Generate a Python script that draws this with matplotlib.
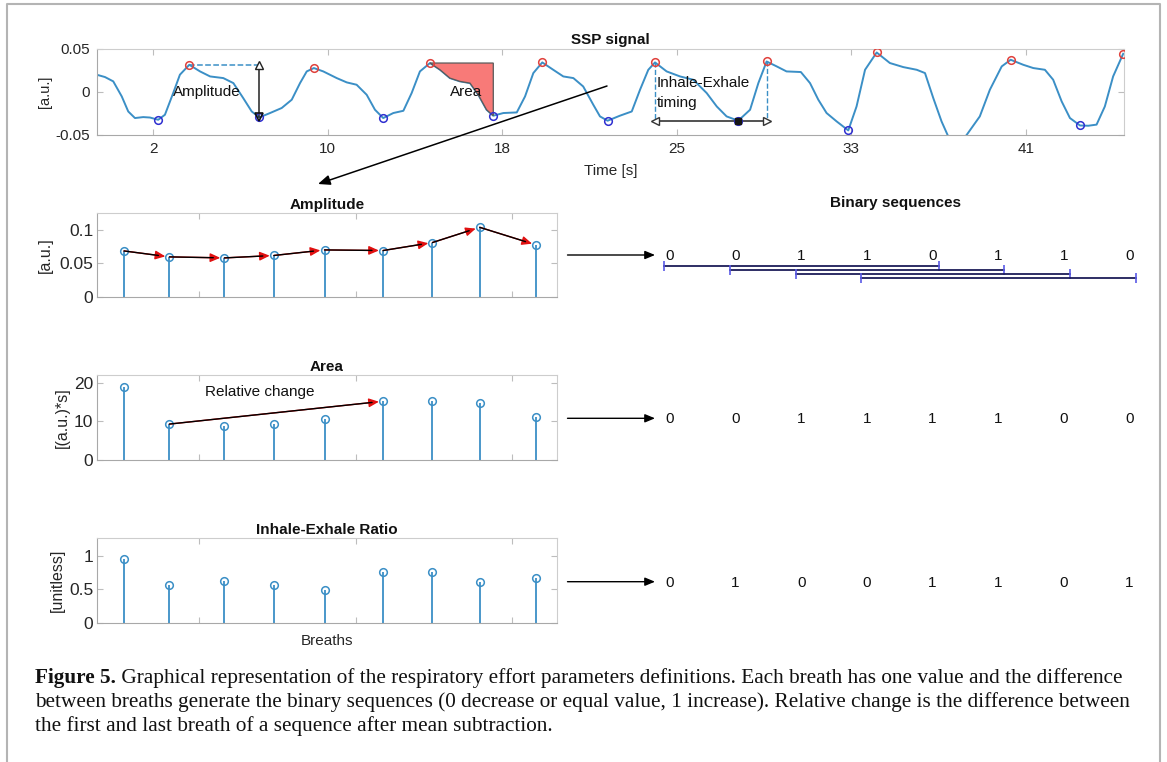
import matplotlib
matplotlib.use('Agg')
import matplotlib.pyplot as plt
from matplotlib.patches import Polygon, FancyArrowPatch
from matplotlib.lines import Line2D

plt.rcParams['font.family'] = ['Liberation Sans', 'DejaVu Sans']

# ---------------- data ----------------
sig_t = [-0.53, -0.16, 0.21, 0.59, 0.88, 1.18, 1.55, 1.85, 2.22, 2.52, 2.89, 3.19, 3.61,
         4.09, 4.54, 5.13, 5.58, 6.02, 6.40, 6.74, 7.22, 7.74, 8.19, 8.56, 8.86, 9.18,
         9.60, 10.20, 10.65, 11.09, 11.54, 11.91, 12.28, 12.73, 13.18, 13.55, 13.92, 14.37,
         14.82, 15.26, 15.71, 16.16, 16.53, 16.90, 17.20, 17.65, 18.25, 18.62, 18.99, 19.39,
         19.88, 20.33, 20.78, 21.22, 21.67, 21.97, 22.31, 22.86, 23.39, 23.76, 24.13, 24.43,
         24.95, 25.55, 26.14, 26.74, 27.19, 27.63, 28.15, 28.68, 29.05, 29.42, 29.87, 30.31,
         30.95, 31.36, 31.73, 32.10, 32.55, 33.07, 33.44, 33.82, 34.34, 34.93, 35.53, 36.13,
         36.50, 36.87, 37.24, 37.54, 37.93, 38.36, 38.95, 39.40, 39.93, 40.33, 40.89, 41.34,
         41.86, 42.23, 42.61, 42.98, 43.43, 43.80, 44.17, 44.54, 44.91, 45.36]
sig_v = [0.0197, 0.0170, 0.0120, -0.0054, -0.0228, -0.0304, -0.0293, -0.0298, -0.0324,
         -0.0266, -0.0015, 0.0197, 0.0312, 0.0235, 0.0177, 0.0158, 0.0100, -0.0073, -0.0228,
         -0.0297, -0.0246, -0.0188, -0.0092, 0.0100, 0.0235, 0.0274, 0.0235, 0.0158, 0.0108,
         0.0081, -0.0035, -0.0208, -0.0304, -0.0246, -0.0220, -0.0015, 0.0235, 0.0332, 0.0254,
         0.0158, 0.0120, 0.0100, -0.0035, -0.0208, -0.0277, -0.0246, -0.0239, -0.0054, 0.0216,
         0.0339, 0.0254, 0.0177, 0.0158, 0.0061, -0.0150, -0.0285, -0.0335, -0.0277, -0.0228,
         0.0023, 0.0254, 0.0339, 0.0235, 0.0177, 0.0139, -0.0015, -0.0170, -0.0285, -0.0335,
         -0.0208, 0.0100, 0.0350, 0.0293, 0.0235, 0.0228, 0.0100, -0.0092, -0.0246, -0.0343,
         -0.0447, -0.0170, 0.0254, 0.0454, 0.0332, 0.0285, 0.0254, 0.0216, -0.0073, -0.0343,
         -0.0517, -0.0620, -0.0500, -0.0285, 0.0023, 0.0293, 0.0370, 0.0312, 0.0274, 0.0254,
         0.0139, -0.0112, -0.0304, -0.0390, -0.0393, -0.0380, -0.0170, 0.0177, 0.0439]
peak_t = [3.61, 9.18, 14.37, 19.39, 24.43, 29.42, 34.34, 40.33, 45.36]
peak_v = [0.0312, 0.0274, 0.0332, 0.0339, 0.0339, 0.0350, 0.0454, 0.0370, 0.0439]
trough_t = [2.22, 6.74, 12.28, 17.20, 22.31, 28.15, 33.07, 43.43]
trough_v = [-0.0324, -0.0297, -0.0304, -0.0277, -0.0335, -0.0335, -0.0447, -0.0390]
time_ticks = [2, 9.8, 17.6, 25.4, 33.2, 41.0]
time_tick_labels = ['2', '10', '18', '25', '33', '41']

breath_x = [5.17, 8.08, 11.60, 14.77, 18.01, 21.76, 24.92, 27.95, 31.56]
amplitude = [0.0685, 0.0597, 0.0582, 0.0618, 0.0700, 0.0691, 0.0809, 0.1034, 0.0774]
area = [18.8, 9.3, 8.8, 9.3, 10.6, 15.2, 15.3, 14.7, 11.1]
ie_ratio = [0.951, 0.567, 0.630, 0.567, 0.493, 0.760, 0.766, 0.607, 0.666]

bin_amplitude = [0, 0, 1, 1, 0, 1, 1, 0]
bin_area = [0, 0, 1, 1, 1, 1, 0, 0]
bin_ratio = [0, 1, 0, 0, 1, 1, 0, 1]
seq_len = 5

caption_bold = 'Figure 5.'
caption_lines = [
    ' Graphical representation of the respiratory effort parameters definitions. Each breath has one value and the difference',
    'between breaths generate the binary sequences (0 decrease or equal value, 1 increase). Relative change is the difference between',
    'the first and last breath of a sequence after mean subtraction.',
]

# ---------------- style ----------------
W, H = 1167, 762
BLUE = '#3b8fc6'
RED = '#e0413c'
TBLUE = '#2f2fd0'
SPINE_D = '#a8a8a8'
SPINE_L = '#cdcdcd'
TXT = '#262626'

fig = plt.figure(figsize=(W / 100, H / 100), dpi=100)


def rect(l, t, r, b):
    return [l / W, 1 - b / H, (r - l) / W, (b - t) / H]


def style_axes(ax, labelsize, pad_y, pad_x=4):
    for s in ['left', 'bottom']:
        ax.spines[s].set_color(SPINE_D)
    for s in ['top', 'right']:
        ax.spines[s].set_color(SPINE_L)
    ax.tick_params(direction='in', top=True, right=True, length=4, color='#bdbdbd',
                   labelcolor=TXT, labelsize=labelsize)
    ax.tick_params(axis='y', pad=pad_y)
    ax.tick_params(axis='x', pad=pad_x)


# ---------------- top: SSP signal ----------------
ax0 = fig.add_axes(rect(96.7, 48.5, 1124.3, 135))
ax0.set_xlim(-0.53, 45.41)
ax0.set_ylim(-0.05, 0.05)
ax0.plot(sig_t, sig_v, color=BLUE, lw=1.4, zorder=2)

# area fill between the peak and the following trough
i0 = sig_t.index(peak_t[2])
i1 = sig_t.index(trough_t[3])
poly_pts = list(zip(sig_t[i0:i1 + 1], sig_v[i0:i1 + 1])) + [(trough_t[3], peak_v[2])]
ax0.add_patch(Polygon(poly_pts, closed=True, fc='#f87a78', ec='#5a5a5a', lw=0.9, zorder=3))
ax0.text((peak_t[2] + trough_t[3]) / 2 + 0.2, 0, 'Area', fontsize=11, ha='center', va='center',
         color='#111111', zorder=6)

# amplitude annotation
ax0.plot([peak_t[0], trough_t[1]], [peak_v[0], peak_v[0]], ls='--', color=BLUE, lw=1.1, zorder=4)
ax0.plot([trough_t[1], trough_t[1]], [peak_v[0], trough_v[1]], color='#222222', lw=1.1, zorder=4)
ax0.plot([trough_t[1]], [peak_v[0]], marker='^', ms=6, mfc='white', mec='#222222', mew=1, zorder=6)
ax0.plot([trough_t[1]], [trough_v[1]], marker='v', ms=6, mfc='none', mec='#111111', mew=1.2, zorder=6)
ax0.text(4.40, 0, 'Amplitude', fontsize=11, ha='center', va='center', color='#111111', zorder=6)

# inhale-exhale timing annotation
lvl = -0.0343
ax0.plot([peak_t[4], peak_t[4]], [peak_v[4], lvl], ls='--', color=BLUE, lw=1.0, zorder=4)
ax0.plot([peak_t[5], peak_t[5]], [peak_v[5], lvl], ls='--', color=BLUE, lw=1.0, zorder=4)
ax0.plot([peak_t[4], peak_t[5]], [lvl, lvl], color='#333333', lw=1.2, zorder=4)
ax0.plot([peak_t[4]], [lvl], marker='<', ms=6, mfc='white', mec='#333333', mew=1, zorder=6)
ax0.plot([peak_t[5]], [lvl], marker='>', ms=6, mfc='white', mec='#333333', mew=1, zorder=6)
ax0.text(24.5, 0.0101, 'Inhale-Exhale', fontsize=11, ha='left', va='center', color='#111111', zorder=6)
ax0.text(24.5, -0.0131, 'timing', fontsize=11, ha='left', va='center', color='#111111', zorder=6)

ax0.plot(peak_t, peak_v, 'o', mfc='none', mec=RED, ms=5.5, mew=1.1, zorder=5)
ax0.plot(trough_t, trough_v, 'o', mfc='none', mec=TBLUE, ms=5.5, mew=1.1, zorder=5)
ax0.plot([trough_t[5]], [trough_v[5]], 's', ms=4, color='#151515', zorder=7)

ax0.set_xticks(time_ticks, time_tick_labels)
ax0.set_yticks([-0.05, 0, 0.05], ['-0.05', '0', '0.05'])
style_axes(ax0, 11, 5, 5)
ax0.set_title('SSP signal', fontsize=11, fontweight='bold', pad=3, color='#111111')
ax0.set_ylabel('[a.u.]', fontsize=10.5, color=TXT)
ax0.yaxis.set_label_coords((51.7 - 96.7) / 1027.6, 0.5)
ax0.set_xlabel('Time [s]', fontsize=11, color=TXT)
ax0.xaxis.set_label_coords(0.5, (135 - 164) / 86.5)


# ---------------- lower stem panels ----------------
def stem_panel(top, bottom, values, ylim, yticks, yticklabels, title, ylabel, ylab_right):
    ax = fig.add_axes(rect(96.7, top, 556.7, bottom))
    ml, sl, bl = ax.stem(breath_x, values, basefmt=' ')
    ml.set(marker='o', mfc='none', mec=BLUE, ms=5.5, mew=1.1)
    sl.set(color=BLUE, lw=1.3)
    ax.set_xlim(3.42, 32.88)
    ax.set_ylim(*ylim)
    ax.set_xticks([10, 20, 30], ['', '', ''])
    ax.set_yticks(yticks, yticklabels)
    style_axes(ax, 12.5, 2.5)
    ax.set_title(title, fontsize=11, fontweight='bold', pad=3, color='#111111')
    ax.set_ylabel(ylabel, fontsize=11.5, color=TXT)
    ax.yaxis.set_label_coords((ylab_right - 96.7) / 460, 0.5)
    return ax


def red_arrow(ax, p0, p1):
    ax.annotate('', xy=p1, xytext=p0,
                arrowprops=dict(arrowstyle='-|>,head_length=0.5,head_width=0.22', color='#e01010',
                                lw=1, shrinkA=0, shrinkB=3, mutation_scale=12), zorder=6)
    ax.annotate('', xy=p1, xytext=p0,
                arrowprops=dict(arrowstyle='-', color='black', lw=1, shrinkA=0, shrinkB=8),
                zorder=7)


ax1 = stem_panel(212.7, 297.3, amplitude, (0, 0.125), [0, 0.05, 0.1], ['0', '0.05', '0.1'],
                 'Amplitude', '[a.u.]', 53)
for i in range(len(amplitude) - 1):
    red_arrow(ax1, (breath_x[i], amplitude[i]), (breath_x[i + 1], amplitude[i + 1]))

ax2 = stem_panel(375, 460, area, (0, 22), [0, 10, 20], ['0', '10', '20'],
                 'Area', '[(a.u.)*s]', 70)
red_arrow(ax2, (breath_x[1], area[1]), (breath_x[5], area[5]))
ax2.text(13.89, 17.5, 'Relative change', fontsize=11, ha='center', va='center', color='#111111')

ax3 = stem_panel(538.3, 623.3, ie_ratio, (0, 1.257), [0, 0.5, 1], ['0', '0.5', '1'],
                 'Inhale-Exhale Ratio', '[unitless]', 65)
ax3.set_xlabel('Breaths', fontsize=11, color=TXT)
ax3.xaxis.set_label_coords(0.5, (623.3 - 634) / 85)

# ---------------- overlay (pixel coordinates) ----------------
ov = fig.add_axes([0, 0, 1, 1], zorder=10)
ov.set_xlim(0, W)
ov.set_ylim(H, 0)
ov.axis('off')
ov.patch.set_alpha(0)

# border
ov.plot([7.3, 7.3, 1159.5, 1159.5], [H + 5, 4.3, 4.3, H + 5], color='#b4b4b4', lw=1.5,
        clip_on=False)

# big arrow from the signal to the amplitude panel
ov.annotate('', xy=(318, 184), xytext=(607, 86),
            arrowprops=dict(arrowstyle='-|>,head_length=0.6,head_width=0.25', color='black',
                            lw=1.1, shrinkA=0, shrinkB=0, mutation_scale=12))

# binary sequences
ov.text(895, 202.7, 'Binary sequences', fontsize=11, fontweight='bold', ha='center',
        va='center', color='#111111')
digit_x0, digit_dx = 669.8, 65.67
rows = [(bin_amplitude, 256.5, 255.0), (bin_area, 419.0, 418.3), (bin_ratio, 583.0, 581.7)]
for bits, yd, ya in rows:
    ov.annotate('', xy=(655, ya), xytext=(567.5, ya),
                arrowprops=dict(arrowstyle='-|>,head_length=0.6,head_width=0.25', color='black',
                                lw=1.0, shrinkA=0, shrinkB=0, mutation_scale=10))
    for k, b in enumerate(bits):
        ov.text(digit_x0 + k * digit_dx, yd, str(b), fontsize=11, ha='center', va='center',
                color='#111111')

seq_y = [265.7, 269.5, 273.5, 278.3]
for j, yy in enumerate(seq_y):
    xa = digit_x0 + j * digit_dx - 5.6
    xb = digit_x0 + (j + seq_len - 1) * digit_dx + 6.1
    ov.plot([xa, xb], [yy, yy], color='#1c1c58', lw=1.3)
    ov.plot([xa, xb], [yy, yy], ls='none', marker='|', ms=7, mew=1.2, color='#5a5ae6')

# caption
fig.canvas.draw()
renderer = fig.canvas.get_renderer()
probe = ov.text(0, 0, caption_bold + caption_lines[0], fontsize=13, family='Liberation Serif')
wpx = probe.get_window_extent(renderer).width
probe.remove()
cap_fs = 13 * (1081 / wpx)
cap_y = [678, 701.8, 725.8]
tb = ov.text(35, cap_y[0], caption_bold, fontsize=cap_fs, fontweight='bold',
             family='Liberation Serif', ha='left', va='center', color='#111111')
bw = tb.get_window_extent(renderer).width
ov.text(35 + bw, cap_y[0], caption_lines[0], fontsize=cap_fs, family='Liberation Serif',
        ha='left', va='center', color='#111111')
for line, yy in zip(caption_lines[1:], cap_y[1:]):
    ov.text(35, yy, line, fontsize=cap_fs, family='Liberation Serif', ha='left', va='center',
            color='#111111')

fig.savefig('out.png', dpi=100)
